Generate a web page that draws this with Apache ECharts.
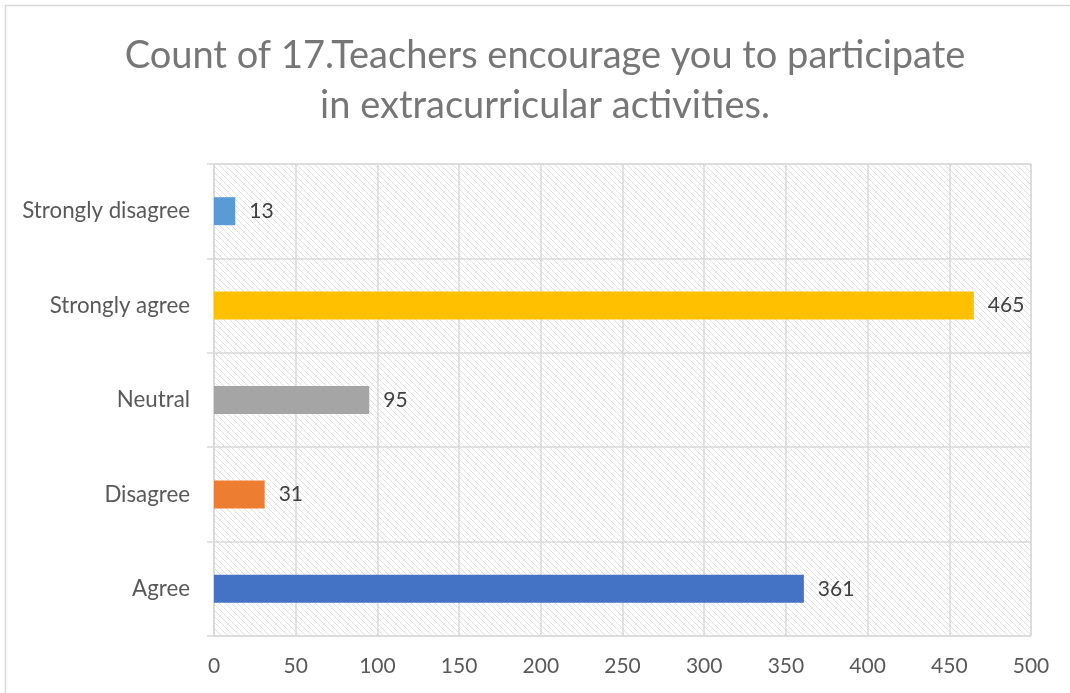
<!DOCTYPE html>
<html>
<head>
<meta charset="utf-8">
<script src="https://cdn.jsdelivr.net/npm/echarts@6/dist/echarts.min.js"></script>
<style>
html, body { margin: 0; padding: 0; background: #fff; }
#chartBox { width: 1070px; height: 693px; }
</style>
</head>
<body>
<div id="chartBox"></div>
<script>
// data
const categories = ['Agree', 'Disagree', 'Neutral', 'Strongly agree', 'Strongly disagree'];
const counts = [361, 31, 95, 465, 13];
const barColors = ['#4472C4', '#ED7D31', '#A5A5A5', '#FFC000', '#5B9BD5'];
const valueTicks = [0, 50, 100, 150, 200, 250, 300, 350, 400, 450, 500];

// diagonal hatch for the plot area
function makeHatch() {
    const c = document.createElement('canvas');
    c.width = 6;
    c.height = 6;
    const ctx = c.getContext('2d');
    ctx.fillStyle = '#ffffff';
    ctx.fillRect(0, 0, 6, 6);
    ctx.strokeStyle = '#e0e0e0';
    ctx.lineWidth = 1;
    ctx.beginPath();
    ctx.moveTo(-1, -1);
    ctx.lineTo(7, 7);
    ctx.moveTo(-1, 5);
    ctx.lineTo(1, 7);
    ctx.moveTo(5, -1);
    ctx.lineTo(7, 1);
    ctx.stroke();
    return c;
}

const chartDom = document.getElementById('chartBox');
const myChart = echarts.init(chartDom);

let option = {
    animation: false,
    title: {
        text: 'Count of 17.Teachers encourage you to participate\nin extracurricular activities.',
        left: 540,
        top: 26,
        textAlign: 'center',
        textStyle: {
            fontFamily: 'Lato, sans-serif',
            fontWeight: 'normal',
            fontSize: 38,
            lineHeight: 50,
            color: '#767676'
        }
    },
    graphic: [
        {
            type: 'rect',
            shape: { x: 5.5, y: 5.5, width: 1100, height: 720 },
            style: { fill: 'none', stroke: '#d9d9d9', lineWidth: 1.5 },
            silent: true
        }
    ],
    grid: {
        left: 214,
        right: 39,
        top: 164,
        bottom: 57,
        show: true,
        backgroundColor: { image: makeHatch(), repeat: 'repeat' },
        borderColor: '#d9d9d9',
        borderWidth: 1
    },
    xAxis: {
        type: 'value',
        min: 0,
        max: 500,
        interval: 50,
        axisLine: { show: false },
        axisTick: { show: false },
        splitLine: { show: true, lineStyle: { color: '#d9d9d9', width: 1.5 } },
        axisLabel: {
            margin: 20,
            fontFamily: 'Lato, sans-serif',
            fontSize: 21,
            color: '#595959',
            formatter: function (v) {
                return valueTicks.indexOf(v) >= 0 ? String(v) : '';
            }
        }
    },
    yAxis: {
        type: 'category',
        data: categories,
        axisLine: { show: true, lineStyle: { color: '#d9d9d9', width: 1.5 } },
        axisTick: { show: true, length: 7, lineStyle: { color: '#d9d9d9', width: 1.5 } },
        splitLine: { show: true, lineStyle: { color: '#d9d9d9', width: 1.5 } },
        axisLabel: {
            margin: 24,
            fontFamily: 'Lato, sans-serif',
            fontSize: 22.3,
            color: '#595959'
        }
    },
    series: [
        {
            type: 'bar',
            barWidth: 28,
            data: counts.map(function (v, i) {
                return { value: v, itemStyle: { color: barColors[i] } };
            }),
            label: {
                show: true,
                position: 'right',
                distance: 14,
                fontFamily: 'Lato, sans-serif',
                fontSize: 21,
                color: '#404040'
            }
        }
    ]
};
myChart.setOption(option);
</script>
</body>
</html>
